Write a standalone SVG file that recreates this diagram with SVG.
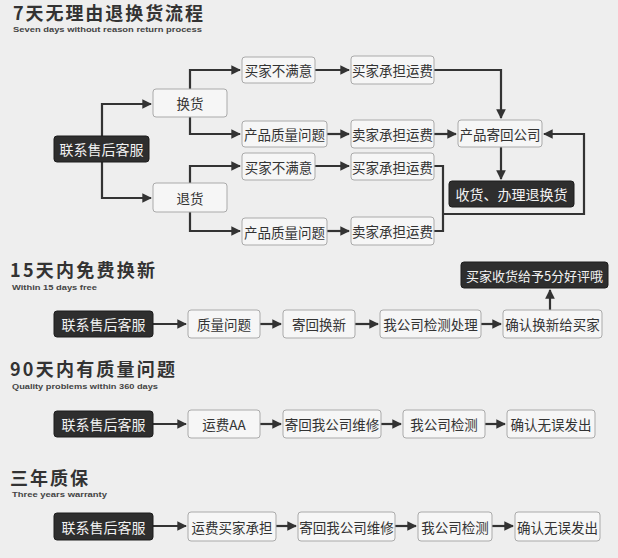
<svg xmlns="http://www.w3.org/2000/svg" width="618" height="558" viewBox="0 0 618 558">
<style>
  .bg{fill:#eeeeee}
  .box rect{fill:#f6f6f6;stroke:#aaaaaa;stroke-width:1}
  .box text{fill:#333333;font-family:"Noto Sans CJK SC","Liberation Sans",sans-serif;font-size:13.5px;text-anchor:middle;dominant-baseline:central}
  .dark rect{fill:#2e2e2e;stroke:#1c1c1c;stroke-width:1}
  .dark text{fill:#f2f2f2;font-family:"Noto Sans CJK SC","Liberation Sans",sans-serif;font-size:14px;text-anchor:middle;dominant-baseline:central}
  .title{fill:#333333;font-family:"Noto Sans CJK SC","Liberation Sans",sans-serif;font-size:18px;font-weight:bold}
  .sub{fill:#444444;font-family:"Liberation Sans",Arial,sans-serif;font-size:8px;font-weight:bold}
  .conn path{fill:none;stroke:#333333;stroke-width:2.2}
</style>
<defs>
  <marker id="ah" viewBox="0 0 10 10" refX="9" refY="5" markerWidth="4.4" markerHeight="4.4" orient="auto" markerUnits="strokeWidth">
    <path d="M0,0 L10,5 L0,10 z" fill="#333333"/>
  </marker>
</defs>
<rect class="bg" x="0" y="0" width="618" height="558"/>

<!-- titles -->
<text class="title" x="13" y="20" textLength="190" lengthAdjust="spacing">7天无理由退换货流程</text>
<text class="sub" x="13" y="32" textLength="189" lengthAdjust="spacingAndGlyphs">Seven days without reason return process</text>
<text class="title" x="10" y="277" textLength="145" lengthAdjust="spacing">15天内免费换新</text>
<text class="sub" x="12" y="290" textLength="85" lengthAdjust="spacingAndGlyphs">Within 15 days free</text>
<text class="title" x="10" y="376" textLength="165" lengthAdjust="spacing">90天内有质量问题</text>
<text class="sub" x="12" y="389" textLength="146" lengthAdjust="spacingAndGlyphs">Quality problems within 360 days</text>
<text class="title" x="10" y="485" textLength="78" lengthAdjust="spacing">三年质保</text>
<text class="sub" x="12" y="497" textLength="95" lengthAdjust="spacingAndGlyphs">Three years warranty</text>

<!-- connectors -->
<g class="conn" id="connectors">
  <path d="M102,136 V104 H151" marker-end="url(#ah)"/>
  <path d="M102,162 V198 H151" marker-end="url(#ah)"/>
  <path d="M190,89 V70 H240" marker-end="url(#ah)"/>
  <path d="M190,117 V134 H240" marker-end="url(#ah)"/>
  <path d="M190,183 V166 H240" marker-end="url(#ah)"/>
  <path d="M190,212 V231 H240" marker-end="url(#ah)"/>
  <path d="M315,70 H349" marker-end="url(#ah)"/>
  <path d="M327,134 H349" marker-end="url(#ah)"/>
  <path d="M315,166 H349" marker-end="url(#ah)"/>
  <path d="M327,231 H349" marker-end="url(#ah)"/>
  <path d="M434,70 H501 V118" marker-end="url(#ah)"/>
  <path d="M434,134 H456" marker-end="url(#ah)"/>
  <path d="M501,147 V179" marker-end="url(#ah)"/>
  <path d="M434,166 H443 V231 H434"/>
  <path d="M443,214 H584 V134 H544" marker-end="url(#ah)"/>

  <path d="M153,324 H186" marker-end="url(#ah)"/>
  <path d="M260,324 H281" marker-end="url(#ah)"/>
  <path d="M355,324 H378" marker-end="url(#ah)"/>
  <path d="M481,324 H501" marker-end="url(#ah)"/>
  <path d="M550,310 V290" marker-end="url(#ah)"/>

  <path d="M153,424 H186" marker-end="url(#ah)"/>
  <path d="M260,424 H281" marker-end="url(#ah)"/>
  <path d="M381,424 H401" marker-end="url(#ah)"/>
  <path d="M485,424 H505" marker-end="url(#ah)"/>

  <path d="M153,526 H186" marker-end="url(#ah)"/>
  <path d="M276,526 H296" marker-end="url(#ah)"/>
  <path d="M395,526 H416" marker-end="url(#ah)"/>
  <path d="M492,526 H513" marker-end="url(#ah)"/>
</g>

<!-- section 1 -->
<g id="s1-contact" class="dark"><rect x="54" y="136" width="95" height="26" rx="3"/><text x="101.5" y="149">联系售后客服</text></g>
<g id="s1-exchange" class="box"><rect x="153" y="89" width="74" height="28" rx="3"/><text x="190" y="103">换货</text></g>
<g id="s1-return" class="box"><rect x="153" y="183" width="74" height="29" rx="3"/><text x="190" y="197.5">退货</text></g>
<g id="s1-a1" class="box"><rect x="242" y="57" width="73" height="26" rx="3"/><text x="278.5" y="70">买家不满意</text></g>
<g id="s1-a2" class="box"><rect x="242" y="121" width="85" height="26" rx="3"/><text x="284.5" y="134">产品质量问题</text></g>
<g id="s1-a3" class="box"><rect x="242" y="153" width="73" height="27" rx="3"/><text x="278.5" y="166.5">买家不满意</text></g>
<g id="s1-a4" class="box"><rect x="242" y="218" width="85" height="27" rx="3"/><text x="284.5" y="231.5">产品质量问题</text></g>
<g id="s1-b1" class="box"><rect x="351" y="56" width="83" height="28" rx="3"/><text x="392.5" y="70">买家承担运费</text></g>
<g id="s1-b2" class="box"><rect x="351" y="120" width="83" height="28" rx="3"/><text x="392.5" y="134">卖家承担运费</text></g>
<g id="s1-b3" class="box"><rect x="351" y="153" width="83" height="27" rx="3"/><text x="392.5" y="166.5">买家承担运费</text></g>
<g id="s1-b4" class="box"><rect x="351" y="217" width="83" height="28" rx="3"/><text x="392.5" y="231">卖家承担运费</text></g>
<g id="s1-send" class="box"><rect x="458" y="120" width="84" height="27" rx="3"/><text x="500" y="133.5">产品寄回公司</text></g>
<g id="s1-done" class="dark"><rect x="449" y="181" width="125" height="26" rx="3"/><text x="511.5" y="194">收货、办理退换货</text></g>

<!-- section 2 -->
<g id="s2-contact" class="dark"><rect x="54" y="311" width="99" height="26" rx="3"/><text x="103.5" y="324">联系售后客服</text></g>
<g id="s2-n1" class="box"><rect x="188" y="310" width="72" height="28" rx="3"/><text x="224" y="324">质量问题</text></g>
<g id="s2-n2" class="box"><rect x="283" y="310" width="72" height="28" rx="3"/><text x="319" y="324">寄回换新</text></g>
<g id="s2-n3" class="box"><rect x="380" y="310" width="101" height="28" rx="3"/><text x="430.5" y="324">我公司检测处理</text></g>
<g id="s2-n4" class="box"><rect x="503" y="310" width="99" height="28" rx="3"/><text x="552.5" y="324">确认换新给买家</text></g>
<g id="s2-top" class="dark"><rect x="461" y="262" width="147" height="26" rx="3"/><text x="534.5" y="275" style="font-size:13px">买家收货给予5分好评哦</text></g>

<!-- section 3 -->
<g id="s3-contact" class="dark"><rect x="54" y="411" width="99" height="26" rx="3"/><text x="103.5" y="424">联系售后客服</text></g>
<g id="s3-n1" class="box"><rect x="188" y="410" width="72" height="28" rx="3"/><text x="224" y="424">运费AA</text></g>
<g id="s3-n2" class="box"><rect x="283" y="410" width="98" height="28" rx="3"/><text x="332" y="424">寄回我公司维修</text></g>
<g id="s3-n3" class="box"><rect x="403" y="410" width="82" height="28" rx="3"/><text x="444" y="424">我公司检测</text></g>
<g id="s3-n4" class="box"><rect x="507" y="410" width="88" height="28" rx="3"/><text x="551" y="424">确认无误发出</text></g>

<!-- section 4 -->
<g id="s4-contact" class="dark"><rect x="54" y="513" width="99" height="27" rx="3"/><text x="103.5" y="526.5">联系售后客服</text></g>
<g id="s4-n1" class="box"><rect x="188" y="512" width="88" height="29" rx="3"/><text x="232" y="526.5">运费买家承担</text></g>
<g id="s4-n2" class="box"><rect x="298" y="512" width="97" height="29" rx="3"/><text x="346.5" y="526.5">寄回我公司维修</text></g>
<g id="s4-n3" class="box"><rect x="418" y="512" width="74" height="29" rx="3"/><text x="455" y="526.5">我公司检测</text></g>
<g id="s4-n4" class="box"><rect x="515" y="512" width="85" height="29" rx="3"/><text x="557.5" y="526.5">确认无误发出</text></g>
</svg>
